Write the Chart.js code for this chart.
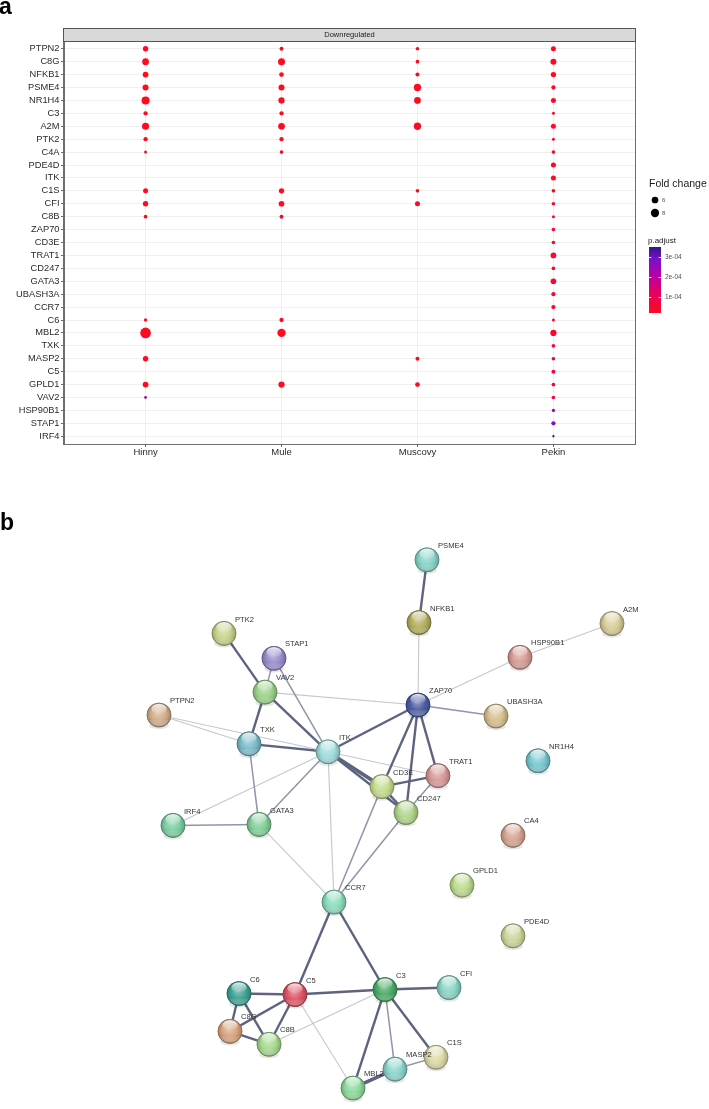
<!DOCTYPE html>
<html><head><meta charset="utf-8">
<script src="https://cdn.jsdelivr.net/npm/chart.js@4/dist/chart.umd.min.js"></script>
<style>
html,body{margin:0;padding:0;background:#fff;}
#wrap{position:relative;width:709px;height:1109px;overflow:hidden;background:#fff;}
canvas{position:absolute;left:0;}
#ca{top:0;}
#cb{top:470px;}
.lbl{position:absolute;font:bold 23px 'Liberation Sans',Arial,sans-serif;line-height:23px;color:#000;}
</style></head><body>
<div id="wrap">
<canvas id="ca" width="709" height="470"></canvas>
<canvas id="cb" width="709" height="639"></canvas>
<div class="lbl" style="left:-1px;top:-5.5px">a</div>
<div class="lbl" style="left:0px;top:510.5px">b</div>
</div>
<script>
// ---------------- Panel a data ----------------
const genes = ['PTPN2','C8G','NFKB1','PSME4','NR1H4','C3','A2M','PTK2','C4A','PDE4D','ITK','C1S','CFI','C8B','ZAP70','CD3E','TRAT1','CD247','GATA3','UBASH3A','CCR7','C6','MBL2','TXK','MASP2','C5','GPLD1','VAV2','HSP90B1','STAP1','IRF4'];
const species = ['Hinny','Mule','Muscovy','Pekin'];
// fold change (null = gene not in the term for that species)
const fcHinny   = [4.5,6.0,4.9,5.2,7.6,3.5,6.4,3.5,2.5,null,null,4.2,4.5,3.0,null,null,null,null,null,null,null,2.7,11.5,null,4.5,null,4.9,2.3,null,null,null];
const fcMule    = [3.3,6.4,3.9,5.2,5.5,3.5,6.0,3.5,3.0,null,null,4.5,4.9,3.3,null,null,null,null,null,null,null,3.5,8.0,null,null,null,5.5,null,null,null,null];
const fcMuscovy = [3.0,3.0,3.3,6.7,6.0,null,6.7,null,null,null,null,3.0,4.2,null,null,null,null,null,null,null,null,null,null,null,3.3,null,3.9,null,null,null,null];
const fcPekin   = [4.2,5.2,4.5,3.5,4.2,2.5,4.2,2.5,3.0,4.2,4.2,3.0,3.0,2.5,3.0,3.0,4.9,3.0,4.9,3.5,3.5,2.5,5.5,3.0,3.0,3.3,3.0,3.0,2.7,3.5,2.0];
// adjusted p values
const pHinny   = [2.1e-5,2.0e-5,2.1e-5,2.0e-5,2.0e-5,2.2e-5,2.0e-5,2.2e-5,2.4e-5,null,null,2.1e-5,2.1e-5,2.3e-5,null,null,null,null,null,null,null,2.4e-5,2.0e-5,null,2.1e-5,null,2.1e-5,2.4e-4,null,null,null];
const pMule    = [2.2e-5,2.0e-5,2.1e-5,2.0e-5,2.0e-5,2.2e-5,2.0e-5,2.2e-5,2.3e-5,null,null,2.1e-5,2.1e-5,2.2e-5,null,null,null,null,null,null,null,2.3e-5,2.0e-5,null,null,null,2.1e-5,null,null,null,null];
const pMuscovy = [2.4e-5,2.4e-5,2.3e-5,2.1e-5,2.1e-5,null,2.1e-5,null,null,null,null,2.4e-5,2.2e-5,null,null,null,null,null,null,null,null,null,null,null,2.3e-5,null,2.2e-5,null,null,null,null];
const pPekin   = [3.0e-5,3.0e-5,3.0e-5,3.2e-5,3.0e-5,3.5e-5,3.0e-5,3.5e-5,3.5e-5,3.2e-5,3.2e-5,3.6e-5,3.6e-5,3.8e-5,3.8e-5,4.0e-5,3.8e-5,4.2e-5,4.2e-5,4.5e-5,4.5e-5,6.0e-5,4.5e-5,5.0e-5,5.5e-5,5.5e-5,6.0e-5,6.5e-5,2.6e-4,2.8e-4,3.5e-4];
const sizeBreaks = [6, 8];
const pBreaks = [1e-4, 2e-4, 3e-4];
const P_MIN = 2e-5, P_MAX = 3.5e-4;

// ---------------- Panel b data (network layout units) ----------------
const nodeNames = ['PSME4','NFKB1','A2M','PTK2','STAP1','HSP90B1','VAV2','ZAP70','PTPN2','UBASH3A','TXK','ITK','NR1H4','TRAT1','CD3E','CD247','IRF4','GATA3','CA4','GPLD1','CCR7','PDE4D','C6','C5','C3','CFI','C8G','C8B','C1S','MASP2','MBL2'];
const nodeX = [55.4,53.8,92.4,14.8,24.8,74.0,23.0,53.6,1.8,69.2,19.8,35.6,77.6,57.6,46.4,51.2,4.6,21.8,72.6,62.4,36.8,72.6,17.8,29.0,47.0,59.8,16.0,23.8,57.2,49.0,40.6];
const nodeY = [4.0,16.6,16.8,18.8,23.8,23.6,30.6,33.2,35.2,35.4,41.0,42.6,44.4,47.4,49.6,54.8,57.4,57.2,59.4,69.4,72.8,79.6,91.2,91.4,90.4,90.0,98.8,101.4,104.0,106.4,110.2];
// edges: [from, to, confidence level 1..4]
const edges = [
 ['PSME4','NFKB1',3],['NFKB1','ZAP70',1],['A2M','HSP90B1',1],['HSP90B1','ZAP70',1],
 ['PTK2','VAV2',3],['STAP1','VAV2',2],['STAP1','ITK',2],['VAV2','ZAP70',1],['VAV2','TXK',3],['VAV2','ITK',3],
 ['PTPN2','TXK',1],['PTPN2','ITK',1],['TXK','ITK',3],['TXK','GATA3',2],
 ['ZAP70','ITK',3],['ZAP70','UBASH3A',2],['ZAP70','CD3E',3],['ZAP70','CD247',3],['ZAP70','TRAT1',3],
 ['ITK','CD3E',4],['ITK','CD247',3],['ITK','TRAT1',1],['CD3E','TRAT1',3],['CD3E','CD247',3],['TRAT1','CD247',2],
 ['ITK','IRF4',1],['ITK','GATA3',2],['ITK','CCR7',1],['IRF4','GATA3',2],['GATA3','CCR7',1],
 ['CD3E','CCR7',2],['CD247','CCR7',2],['CCR7','C5',3],['CCR7','C3',3],
 ['C6','C5',3],['C5','C3',3],['C3','CFI',3],['C6','C8G',3],['C6','C8B',3],['C5','C8G',3],['C5','C8B',3],['C8G','C8B',3],
 ['C3','C8B',1],['C5','MBL2',1],['C3','MBL2',3],['C3','MASP2',2],['C3','C1S',3],['MASP2','C1S',2],['MASP2','MBL2',4]
];

// ---------------- styles ----------------
const nodeColor = {PSME4:'#86d4c9',NFKB1:'#b3ae5e',A2M:'#d8cc98',PTK2:'#c8d28a',STAP1:'#9a8ccc',HSP90B1:'#d89c96',VAV2:'#9bd48a',ZAP70:'#4e5ea6',PTPN2:'#d2ae8c',UBASH3A:'#d6bf8c',TXK:'#7bbccb',ITK:'#9edcdc',NR1H4:'#78c8d0',TRAT1:'#d89898',CD3E:'#c6dc8c',CD247:'#b0d68a',IRF4:'#7ad0a4',GATA3:'#84d09a',CA4:'#d6a490',GPLD1:'#bcdc8c',PDE4D:'#ccd698',CCR7:'#8adcbc',C6:'#3ea294',C5:'#e05466',C3:'#4aac68',CFI:'#8ad6c6',C8G:'#d8a47e',C8B:'#a6da8e',C1S:'#dedaa6',MASP2:'#8ad4cc',MBL2:'#8ada9a'};
const edgeStyle = {1:{c:'#c4c7ce',w:1.1},2:{c:'#8f95aa',w:1.5},3:{c:'#5d6380',w:2.4},4:{c:'#5d6380',w:3.6}};
const FONT = "'Liberation Sans', Arial, sans-serif";
Chart.defaults.font.family = FONT;

function sizeScale(fc){ return 2.11*Math.sqrt(fc) - 1.82; }
const cStops = [[0,[255,10,30]],[0.3,[232,0,95]],[0.55,[187,0,160]],[0.8,[126,16,200]],[1,[52,23,140]]];
function pColor(p){
  let t = (p - P_MIN)/(P_MAX - P_MIN); t = Math.max(0, Math.min(1, t));
  for (let i=1;i<cStops.length;i++){
    if (t <= cStops[i][0]){
      const a=cStops[i-1], b=cStops[i]; const u=(t-a[0])/(b[0]-a[0]);
      return 'rgb('+a[1].map((v,k)=>Math.round(v+(b[1][k]-v)*u)).join(',')+')';
    }
  }
  return 'rgb(52,23,140)';
}
function hexRgb(h){h=h.replace('#','');return [0,2,4].map(i=>parseInt(h.substr(i,2),16));}
function mix(h,to,a){const c=hexRgb(h);const d=to==='w'?[255,255,255]:[0,0,0];return 'rgb('+c.map((v,i)=>Math.round(v+(d[i]-v)*a)).join(',')+')';}

// ---------------- Panel a chart ----------------
const fcAll = [fcHinny, fcMule, fcMuscovy, fcPekin];
const pAll = [pHinny, pMule, pMuscovy, pPekin];
const bubbleSets = species.map((s, si) => {
  const data = [];
  fcAll[si].forEach((fc, gi) => { if (fc != null) data.push({x: si+1, y: gi+1, r: sizeScale(fc), fc: fc, p: pAll[si][gi]}); });
  return {label: s, data: data, backgroundColor: ctx => pColor(ctx.raw ? ctx.raw.p : P_MIN), borderWidth: 0, hoverBorderWidth: 0, clip: false};
});

const panelA = {
  id: 'panelA',
  afterDraw(chart){
    const ctx = chart.ctx, a = chart.chartArea;
    ctx.save();
    // panel border
    ctx.strokeStyle = '#6e6e6e'; ctx.lineWidth = 1;
    ctx.strokeRect(Math.round(a.left)-0.5, Math.round(a.top)+0.5, Math.round(a.right-a.left)+1, Math.round(a.bottom-a.top));
    // strip
    ctx.fillStyle = '#d9d9d9';
    ctx.fillRect(a.left-0.5, 28, a.right-a.left+1, a.top-28);
    ctx.strokeStyle = '#555'; ctx.lineWidth = 1;
    ctx.strokeRect(Math.round(a.left)-0.5, 28.5, Math.round(a.right-a.left)+1, Math.round(a.top)-28);
    ctx.fillStyle = '#1a1a1a'; ctx.font = '7.5px ' + FONT; ctx.textAlign = 'center'; ctx.textBaseline = 'middle';
    ctx.fillText('Downregulated', (a.left+a.right)/2, 35);
    // size legend
    ctx.textAlign = 'left';
    ctx.font = '10.5px ' + FONT; ctx.fillStyle = '#1a1a1a';
    ctx.fillText('Fold change', 649, 184);
    sizeBreaks.forEach((v, i) => {
      const cy = 200 + i*13;
      ctx.beginPath(); ctx.arc(655, cy, sizeScale(v), 0, Math.PI*2); ctx.fillStyle = '#000'; ctx.fill();
      ctx.font = '6px ' + FONT; ctx.fillStyle = '#4d4d4d'; ctx.fillText(String(v), 662, cy);
    });
    // colour bar
    ctx.font = '8px ' + FONT; ctx.fillStyle = '#1a1a1a';
    ctx.fillText('p.adjust', 648, 241);
    const bx = 649, bw = 12, bt = 247, bb = 313;
    const g = ctx.createLinearGradient(0, bb, 0, bt);
    cStops.forEach(s => g.addColorStop(s[0], 'rgb('+s[1].join(',')+')'));
    ctx.fillStyle = g; ctx.fillRect(bx, bt, bw, bb-bt);
    pBreaks.forEach(v => {
      const y = Math.round(bb - (v-P_MIN)/(P_MAX-P_MIN)*(bb-bt)) + 0.5;
      ctx.strokeStyle = 'rgba(255,255,255,0.8)'; ctx.lineWidth = 1;
      ctx.beginPath(); ctx.moveTo(bx, y); ctx.lineTo(bx+2.5, y); ctx.moveTo(bx+bw-2.5, y); ctx.lineTo(bx+bw, y); ctx.stroke();
      ctx.font = '6.5px ' + FONT; ctx.fillStyle = '#4d4d4d';
      ctx.fillText(v.toExponential(0).replace('e-', 'e-0'), 665, y);
    });
    ctx.restore();
  }
};

new Chart(document.getElementById('ca'), {
  type: 'bubble',
  data: {datasets: bubbleSets},
  options: {
    responsive: false, animation: false, events: [],
    layout: {padding: {top: 41, right: 74, left: 0, bottom: 0}},
    plugins: {legend: {display: false}, tooltip: {enabled: false}},
    scales: {
      x: {type: 'linear', min: 0.4, max: 4.6,
          afterBuildTicks: s => { s.ticks = species.map((_, i) => ({value: i+1})); },
          afterFit: s => { s.height = 26; },
          ticks: {callback: v => species[v-1], font: {size: 9.5}, color: '#2a2a2a', padding: 0, maxRotation: 0, autoSkip: false},
          grid: {color: '#ebebeb', lineWidth: 0.8, tickColor: '#444', tickLength: 3},
          border: {color: '#6e6e6e', width: 1}},
      y: {type: 'linear', min: 0.4, max: 31.6, reverse: true,
          afterBuildTicks: s => { s.ticks = genes.map((_, i) => ({value: i+1})); },
          afterFit: s => { s.width = 64; },
          ticks: {callback: v => genes[v-1], font: {size: 9.3}, color: '#2a2a2a', padding: 1.5, autoSkip: false},
          grid: {color: '#ebebeb', lineWidth: 0.8, tickColor: '#444', tickLength: 3},
          border: {color: '#6e6e6e', width: 1}}
    }
  },
  plugins: [panelA]
});

// ---------------- Panel b chart ----------------
const idx = name => nodeNames.indexOf(name);
const nodeData = nodeNames.map((n, i) => ({x: nodeX[i], y: nodeY[i], name: n}));
const edgeSets = edges.map(e => {
  const a = idx(e[0]), b = idx(e[1]), st = edgeStyle[e[2]];
  return {data: [{x: nodeX[a], y: nodeY[a]}, {x: nodeX[b], y: nodeY[b]}], showLine: true, borderColor: st.c, borderWidth: st.w, pointRadius: 0, order: 1, clip: false};
});

const spheres = {
  id: 'spheres',
  afterDatasetsDraw(chart){
    const ctx = chart.ctx;
    const meta = chart.getDatasetMeta(0);
    ctx.save();
    meta.data.forEach((el, i) => {
      const x = el.x, y = el.y, r = 12.3, col = nodeColor[nodeNames[i]];
      // soft shadow
      ctx.beginPath(); ctx.ellipse(x, y + r*0.85, r*0.8, r*0.3, 0, 0, Math.PI*2);
      ctx.fillStyle = 'rgba(0,0,0,0.10)'; ctx.fill();
      // body
      const g = ctx.createRadialGradient(x - 1, y - 3, 1, x, y, r);
      g.addColorStop(0, mix(col, 'w', 0.35)); g.addColorStop(0.55, col); g.addColorStop(0.9, mix(col, 'b', 0.18)); g.addColorStop(1, mix(col, 'b', 0.35));
      ctx.beginPath(); ctx.arc(x, y, r, 0, Math.PI*2); ctx.fillStyle = g; ctx.fill();
      // lower reflected light
      const g2 = ctx.createLinearGradient(0, y + r*0.2, 0, y + r);
      g2.addColorStop(0, 'rgba(255,255,255,0)'); g2.addColorStop(0.75, 'rgba(255,255,255,0.28)'); g2.addColorStop(1, 'rgba(255,255,255,0)');
      ctx.beginPath(); ctx.arc(x, y, r - 1.2, 0.15*Math.PI, 0.85*Math.PI); ctx.closePath(); ctx.fillStyle = g2; ctx.fill();
      // top gloss
      const g3 = ctx.createLinearGradient(0, y - r*0.95, 0, y - r*0.1);
      g3.addColorStop(0, 'rgba(255,255,255,0.9)'); g3.addColorStop(1, 'rgba(255,255,255,0.05)');
      ctx.beginPath(); ctx.ellipse(x, y - r*0.5, r*0.62, r*0.42, 0, 0, Math.PI*2); ctx.fillStyle = g3; ctx.fill();
      // rim
      ctx.beginPath(); ctx.arc(x, y, r - 0.4, 0, Math.PI*2); ctx.strokeStyle = mix(col, 'b', 0.4); ctx.globalAlpha = 0.6; ctx.lineWidth = 0.8; ctx.stroke(); ctx.globalAlpha = 1;
      // label
      ctx.font = '7.6px ' + FONT; ctx.fillStyle = '#333'; ctx.textAlign = 'left'; ctx.textBaseline = 'middle';
      ctx.fillText(nodeNames[i], x + 11, y - 14);
    });
    ctx.restore();
  }
};

new Chart(document.getElementById('cb'), {
  type: 'scatter',
  data: {datasets: [{data: nodeData, pointRadius: 12, backgroundColor: nodeNames.map(n => nodeColor[n]), borderWidth: 0, order: 0, clip: false}].concat(edgeSets)},
  options: {
    responsive: false, animation: false, events: [],
    layout: {padding: {left: 140, right: 49, top: 50, bottom: 9}},
    plugins: {legend: {display: false}, tooltip: {enabled: false}},
    scales: {
      x: {type: 'linear', min: -2, max: 102, display: false},
      y: {type: 'linear', min: -4, max: 112, reverse: true, display: false}
    }
  },
  plugins: [spheres]
});
</script>
</body></html>
